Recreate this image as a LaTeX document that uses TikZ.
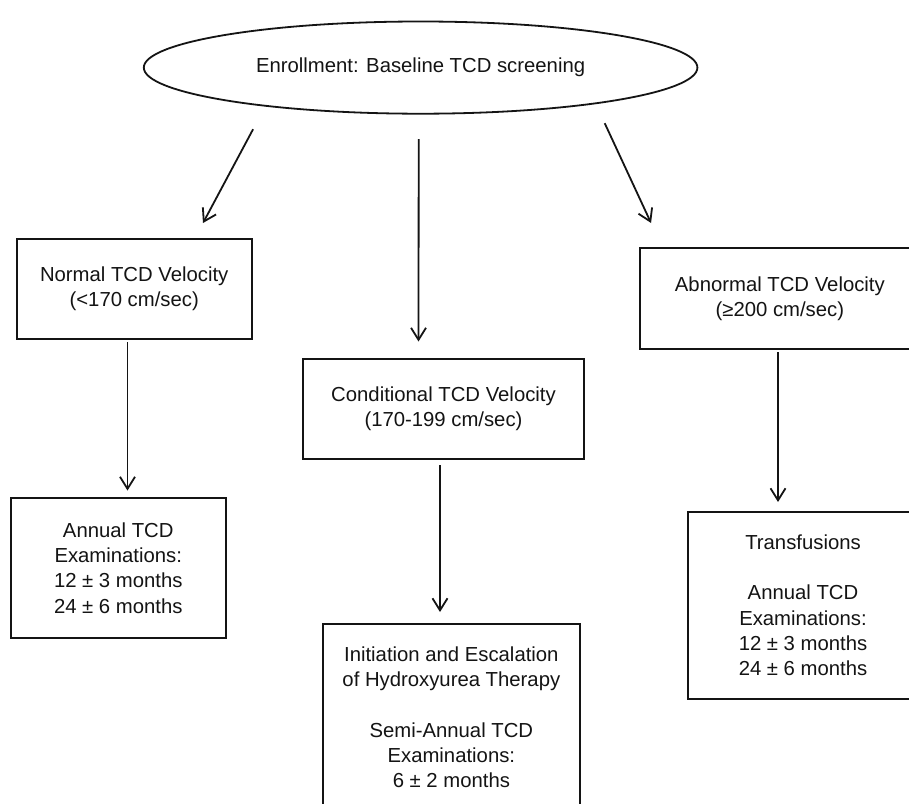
\documentclass[tikz,border=0pt]{standalone}
\usepackage{fontspec}
\setmainfont{Liberation Sans}
\usetikzlibrary{arrows.meta,shapes.geometric}
\definecolor{ink}{HTML}{141414}
\begin{document}
\begin{tikzpicture}[x=1pt,y=-1pt,
  txt/.style={font=\fontsize{20.3}{25.3}\selectfont, text=ink, align=center},
  box/.style={txt, draw=ink, line width=2pt, rectangle, inner sep=0pt, outer sep=0pt},
  oval/.style={txt, draw=ink, line width=1.8pt, ellipse, inner sep=0pt, outer sep=0pt},
  arr/.style={draw=ink, line width=1.8pt, -{Straight Barb[length=12pt,width=15pt,line width=1.8pt]}}
]
\useasboundingbox (0,0) rectangle (909,803);
\fill[white] (0,0) rectangle (909,803);

\node[oval, minimum width=553.6pt, minimum height=92.2pt] (enroll) at (420.6,67.6)
  {\raisebox{2pt}{Enrollment: Baseline TCD screening}};

\node[box, minimum width=235pt, minimum height=100pt] (normal) at (134.2,289)
  {Normal TCD Velocity\\(<170 cm/sec)};
\node[box, minimum width=281pt, minimum height=100pt] (cond) at (443.5,409)
  {Conditional TCD Velocity\\(170-199 cm/sec)};
\node[box, minimum width=280.3pt, minimum height=100.7pt] (abn) at (779.85,298.65)
  {Abnormal TCD Velocity\\(≥200 cm/sec)};

\node[box, minimum width=214.5pt, minimum height=140.3pt] (annual) at (118.25,567.85)
  {Annual TCD\\Examinations:\\12 ± 3 months\\24 ± 6 months};
\node[box, minimum width=257.3pt, minimum height=187.3pt] (init) at (451.35,717.35)
  {Initiation and Escalation\\of Hydroxyurea Therapy\\[25.3pt]Semi-Annual TCD\\Examinations:\\6 ± 2 months};
\node[box, minimum width=230pt, minimum height=187.3pt] (trans) at (803,605.35)
  {Transfusions\\[25.3pt]Annual TCD\\Examinations:\\12 ± 3 months\\24 ± 6 months};

\draw[arr] ([xshift=-167.5pt,yshift=-15.5pt]enroll.south) -- ([xshift=68.8pt,yshift=16pt]normal.north);
\draw[arr] ([xshift=-1.9pt,yshift=-25.5pt]enroll.south) -- ([xshift=-25pt,yshift=17.5pt]cond.north);
\draw[arr] ([xshift=184.1pt,yshift=-9.5pt]enroll.south) -- ([xshift=-128.8pt,yshift=25.3pt]abn.north);

\draw[arr] ([xshift=-6.7pt,yshift=-3pt]normal.south) -- ([xshift=9.25pt,yshift=7.2pt]annual.north);
\draw[arr] ([xshift=-3.6pt,yshift=-6pt]cond.south) -- ([xshift=-11.35pt,yshift=11.7pt]init.north);
\draw[arr] ([xshift=-1.8pt,yshift=-3pt]abn.south) -- ([xshift=-25pt,yshift=9.7pt]trans.north);
\end{tikzpicture}
\end{document}
